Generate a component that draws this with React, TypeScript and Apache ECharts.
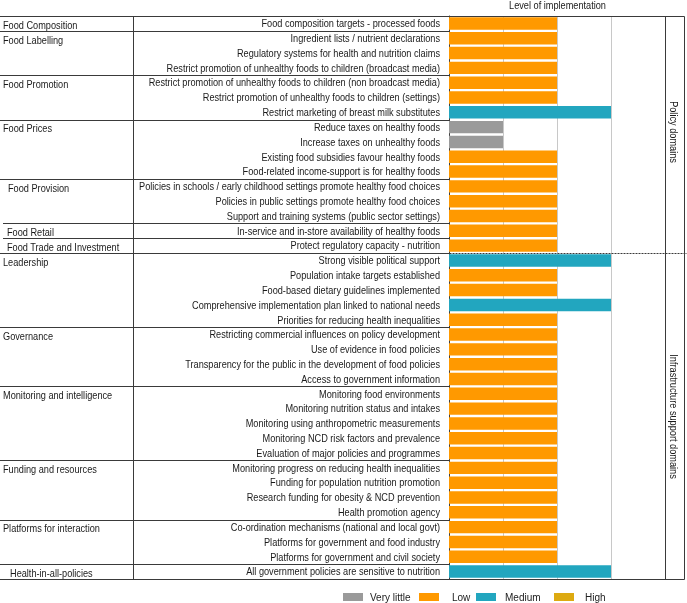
import React, { useEffect, useRef } from "react";
import * as echarts from "echarts";

const indicators = [
  "Food composition targets - processed foods",
  "Ingredient lists / nutrient declarations",
  "Regulatory systems for health and nutrition claims",
  "Restrict promotion of unhealthy foods to children (broadcast media)",
  "Restrict promotion of unhealthy foods to children (non broadcast media)",
  "Restrict promotion of unhealthy foods to children (settings)",
  "Restrict marketing of breast milk substitutes",
  "Reduce taxes on healthy foods",
  "Increase taxes on unhealthy foods",
  "Existing food subsidies favour healthy foods",
  "Food-related income-support is for healthy foods",
  "Policies in schools / early childhood settings promote healthy food choices",
  "Policies in public settings promote healthy food choices",
  "Support and training systems (public sector settings)",
  "In-service and in-store availability of healthy foods",
  "Protect regulatory capacity - nutrition",
  "Strong visible political support",
  "Population intake targets established",
  "Food-based dietary guidelines implemented",
  "Comprehensive implementation plan linked to national needs",
  "Priorities for reducing health inequalities",
  "Restricting commercial influences on policy development",
  "Use of evidence in food policies",
  "Transparency for the public in the development of food policies",
  "Access to government information",
  "Monitoring food environments",
  "Monitoring nutrition status and intakes",
  "Monitoring using anthropometric measurements",
  "Monitoring NCD risk factors and prevalence",
  "Evaluation of major policies and programmes",
  "Monitoring progress on reducing health inequalities",
  "Funding for population nutrition promotion",
  "Research funding for obesity & NCD prevention",
  "Health promotion agency",
  "Co-ordination mechanisms (national and local govt)",
  "Platforms for government and food industry",
  "Platforms for government and civil society",
  "All government policies are sensitive to nutrition",
];

// 1 = Very little, 2 = Low, 3 = Medium, 4 = High
const levels = [
  2, 2, 2, 2, 2, 2, 3, 1, 1, 2, 2, 2, 2, 2, 2, 2,
  3, 2, 2, 3, 2, 2, 2, 2, 2, 2, 2, 2, 2, 2, 2, 2, 2, 2, 2, 2, 2, 3,
];

const levelNames = ["Very little", "Low", "Medium", "High"];
const levelColors = ["#9a9a9a", "#ff9900", "#22a6bf", "#ddaa11"];

const groupNames = [
  "Food Composition",
  "Food Labelling",
  "Food Promotion",
  "Food Prices",
  "Food Provision",
  "Food Retail",
  "Food Trade and Investment",
  "Leadership",
  "Governance",
  "Monitoring and intelligence",
  "Funding and resources",
  "Platforms for interaction",
  "Health-in-all-policies",
];
const groupStarts = [0, 1, 4, 7, 11, 14, 15, 16, 21, 25, 30, 34, 37];

const domainNames = ["Policy domains", "Infrastructure support domains"];
const domainStarts = [0, 16];

const xTitle = "Level of implementation";

const FONT = "'Liberation Sans', Arial, sans-serif";
const NARROW = 0.835;

export default function App() {
  const ref = useRef<HTMLDivElement>(null);
  useEffect(() => {
    const chart = echarts.init(ref.current!, null, { renderer: "svg" });
    const legendLefts = [343, 419, 476, 554];
    const legendPads = [2, 8, 4, 6];
    const option: any = {
      animation: false,
      grid: { left: 449, right: 22, top: 16, bottom: 24 },
      xAxis: {
        type: "value",
        min: 0,
        max: 4,
        interval: 1,
        axisLabel: { show: false },
        axisLine: { show: false },
        axisTick: { show: false },
        splitLine: { lineStyle: { color: "#c8c8c8", width: 1 } },
      },
      yAxis: {
        type: "category",
        inverse: true,
        data: indicators,
        axisLine: { lineStyle: { color: "#404040" } },
        axisTick: { inside: true, length: 3, lineStyle: { color: "#c0c0c0" } },
        axisLabel: { show: false },
      },
      legend: levelNames.map((n, i) => ({
        data: [n],
        left: legendLefts[i],
        top: 592,
        padding: 0,
        itemWidth: 20,
        itemHeight: 8,
        icon: "rect",
        selectedMode: false,
        textStyle: { fontFamily: FONT, fontSize: 10, color: "#222", padding: [0, 0, 0, legendPads[i]] },
      })),
      series: levelNames.map((n, i) => ({
        name: n,
        type: "bar",
        stack: "lvl",
        barCategoryGap: "16%",
        itemStyle: { color: levelColors[i] },
        data: levels.map((v) => (v === i + 1 ? v : "-")),
      })),
    };
    chart.setOption(option);

    const yOf = (i: number) => chart.convertToPixel({ yAxisIndex: 0 }, i) as number;
    const x0 = Math.round(chart.convertToPixel({ xAxisIndex: 0 }, 0) as number) + 0.5;
    const x4 = Math.round(chart.convertToPixel({ xAxisIndex: 0 }, 4) as number) + 0.5;
    const rowH = Math.abs(yOf(1) - yOf(0));
    const bound = (i: number) => Math.round(yOf(0) - rowH / 2 + i * rowH) + 0.5;
    const n = indicators.length;
    const boxR = x4 + 19;
    const colX = 133.5;
    const stroke = "#3a3a3a";
    const line = (x1: number, y1: number, x2: number, y2: number, dashed = false) => ({
      type: "line",
      silent: true,
      shape: { x1, y1, x2, y2 },
      style: { stroke, lineWidth: 1, lineDash: dashed ? [2, 1] : null },
    });
    const text = (t: string, x: number, y: number, align: string, rotation = 0) => ({
      type: "text",
      silent: true,
      x,
      y,
      rotation,
      scaleX: NARROW,
      style: {
        text: t,
        fontFamily: FONT,
        fontSize: 11,
        fill: "#1a1a1a",
        textAlign: align,
        textVerticalAlign: "middle",
      },
    });
    const indent: Record<string, number> = {
      "Food Provision": 8,
      "Food Retail": 7,
      "Food Trade and Investment": 7,
      "Health-in-all-policies": 10,
    };
    const shortLine: Record<string, boolean> = {
      "Food Retail": true,
      "Food Trade and Investment": true,
    };
    const g: any[] = [];
    g.push(text(xTitle, (x0 + x4) / 2, 5, "center"));
    g.push(line(0, bound(0), boxR, bound(0)));
    g.push(line(0, bound(n), boxR, bound(n)));
    g.push(line(colX, bound(0), colX, bound(n)));
    g.push(line(x4, bound(0), x4, bound(n)));
    g.push(line(boxR, bound(0), boxR, bound(n)));
    indicators.forEach((name, i) => {
      g.push(text(name, x0 - 9.5, yOf(i), "right"));
    });
    groupStarts.forEach((s, k) => {
      if (s > 0) {
        const sx = shortLine[groupNames[k]] ? 3 : 0;
        g.push(line(sx, bound(s), x0, bound(s)));
      }
      g.push(text(groupNames[k], indent[groupNames[k]] || 3, yOf(s) + 1.5, "left"));
    });
    domainStarts.forEach((s, k) => {
      const e = k + 1 < domainStarts.length ? domainStarts[k + 1] : n;
      if (s > 0) g.push(line(x0, bound(s), 687, bound(s), true));
      g.push(text(domainNames[k], (x4 + boxR) / 2 - 1.5, (bound(s) + bound(e)) / 2 - (k === 0 ? 3 : 0), "center", -Math.PI / 2));
    });
    chart.setOption({ graphic: g });
    return () => chart.dispose();
  }, []);
  return <div ref={ref} style={{ position: "fixed", left: 0, top: 0, width: 687, height: 603 }} />;
}
